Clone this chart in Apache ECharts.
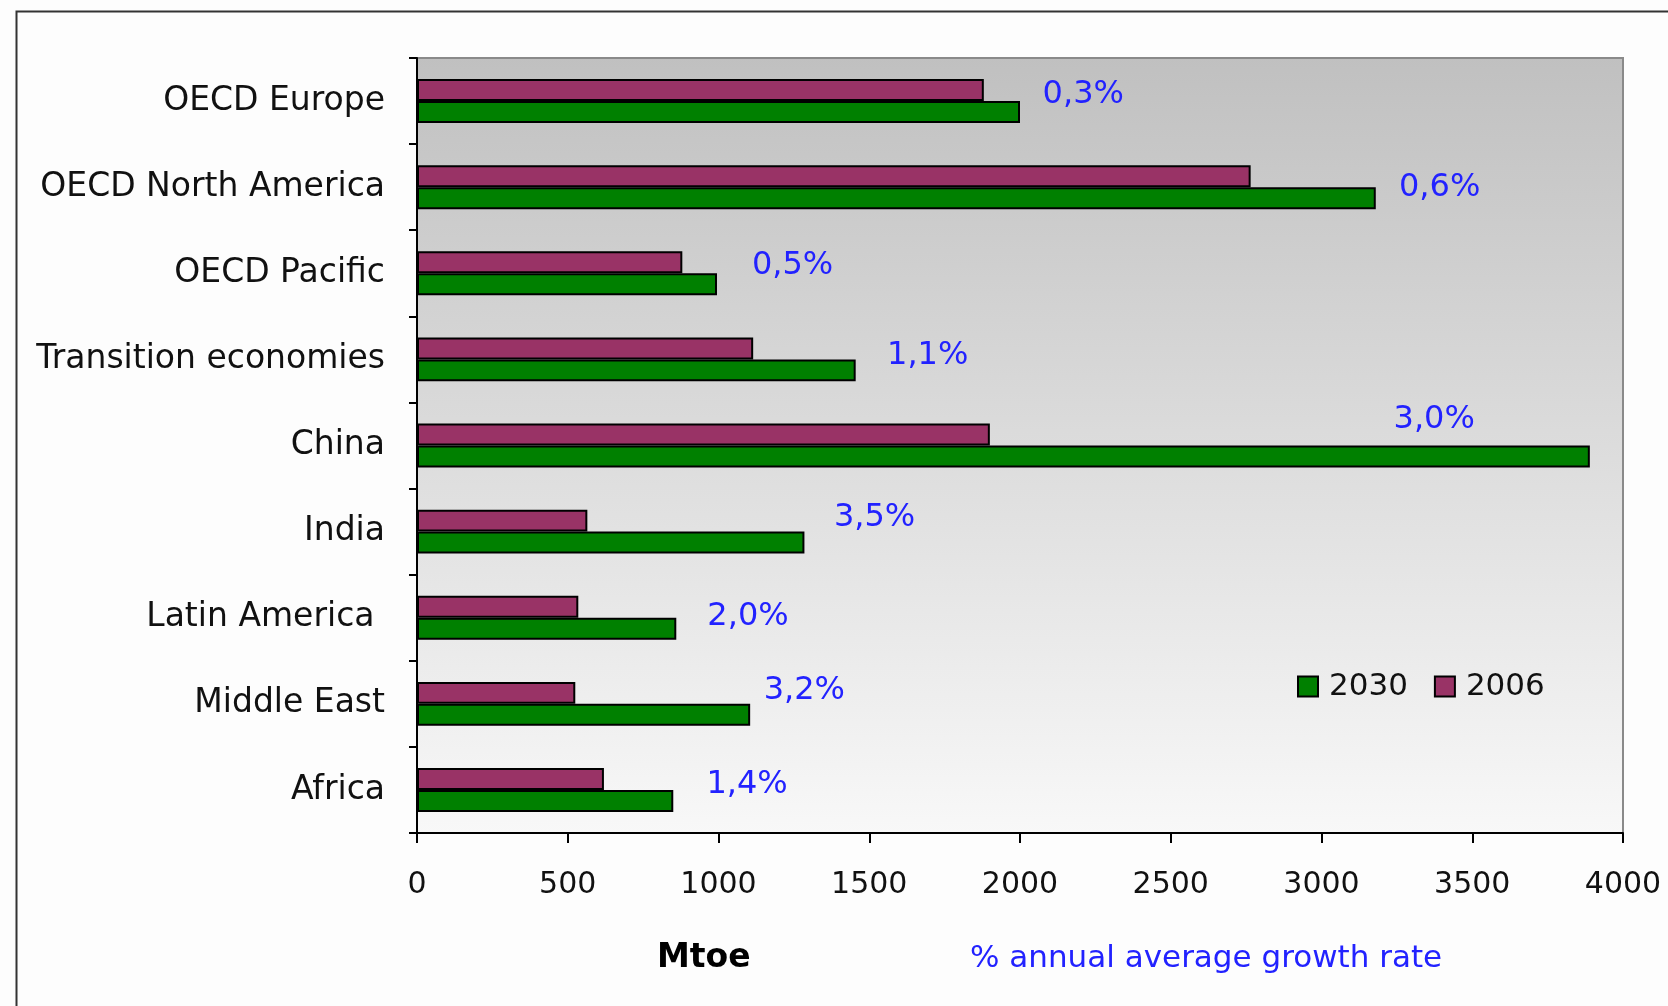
<!DOCTYPE html>
<html>
<head>
<meta charset="utf-8">
<script src="https://cdn.jsdelivr.net/npm/echarts@6/dist/echarts.min.js"></script>
<style>
html,body{margin:0;padding:0;background:#fdfdfd;}
#chart{width:1668px;height:1006px;}
</style>
</head>
<body>
<div id="chart"></div>
<script>
// ---- data ----
const regions = ['OECD Europe', 'OECD North America', 'OECD Pacific', 'Transition economies', 'China', 'India', 'Latin America ', 'Middle East', 'Africa'];
const values2006 = [1880, 2765, 880, 1115, 1900, 565, 535, 525, 620];
const values2030 = [2000, 3180, 995, 1455, 3890, 1285, 860, 1105, 850];
const growthRates = ['0,3%', '0,6%', '0,5%', '1,1%', '3,0%', '3,5%', '2,0%', '3,2%', '1,4%'];
const xTicks = { min: 0, max: 4000, interval: 500 };
// annotation placement (Mtoe units along x) and vertical pixel nudge of growth labels
const growthLabelX = [2075, 3257, 1111, 1559, 3239, 1383, 963, 1150, 960];
const growthLabelDy = [-6, 1, -8, -4, -26, -14, -1, -13, -5];

const FONT = 'DejaVu Sans';
const chart = echarts.init(document.getElementById('chart'), null, { renderer: 'canvas' });

const growthData = regions.map((r, i) => ({
  value: [growthLabelX[i], r],
  label: { offset: [0, growthLabelDy[i]], formatter: growthRates[i] }
}));

chart.setOption({
  animation: false,
  backgroundColor: '#fdfdfd',
  textStyle: { fontFamily: FONT },
  grid: {
    left: 417, top: 58, right: 45, bottom: 173,
    show: true,
    backgroundColor: new echarts.graphic.LinearGradient(0, 0, 0, 1, [
      { offset: 0, color: '#c0c0c0' },
      { offset: 1, color: '#f8f8f8' }
    ]),
    borderColor: '#8a8a8a',
    borderWidth: 2
  },
  legend: {
    data: ['2030', '2006'],
    left: 1292, top: 666,
    itemWidth: 20, itemHeight: 20,
    itemGap: 26,
    icon: 'rect',
    textStyle: { fontFamily: FONT, fontSize: 31, color: '#111', padding: [0, 0, 0, 6] }
  },
  xAxis: {
    type: 'value',
    min: xTicks.min, max: xTicks.max, interval: xTicks.interval,
    axisLine: { show: true, lineStyle: { color: '#000', width: 2 } },
    axisTick: { show: true, length: 10, lineStyle: { color: '#000', width: 2 } },
    axisLabel: { fontFamily: FONT, fontSize: 30, color: '#111', margin: 37, formatter: v => String(v) },
    splitLine: { show: false }
  },
  yAxis: {
    type: 'category',
    data: regions,
    inverse: true,
    axisLine: { show: true, lineStyle: { color: '#000', width: 2 } },
    axisTick: { show: true, length: 8, lineStyle: { color: '#000', width: 2 } },
    axisLabel: { fontFamily: FONT, fontSize: 33, color: '#111', margin: 32, padding: [6, 0, 0, 0] }
  },
  series: [
    {
      name: '2006', type: 'bar', data: values2006,
      barGap: '0%', barCategoryGap: '49%',
      itemStyle: { color: '#993366', borderColor: '#000', borderWidth: 2 },
      silent: true
    },
    {
      name: '2030', type: 'bar', data: values2030,
      barGap: '0%', barCategoryGap: '49%',
      itemStyle: { color: '#008000', borderColor: '#000', borderWidth: 2 },
      silent: true
    },
    {
      name: 'growth', type: 'scatter', data: growthData,
      symbolSize: 0, silent: true,
      itemStyle: { opacity: 1 },
      label: {
        show: true, position: 'right', distance: 0,
        fontFamily: FONT, fontSize: 32, color: '#2222ff'
      }
    }
  ],
  graphic: [
    { type: 'rect', left: 14, top: 9, shape: { width: 1700, height: 1100 },
      style: { fill: 'none', stroke: '#333', lineWidth: 2 }, silent: true, z: 100 },
    { type: 'text', left: 657, top: 942,
      style: { text: 'Mtoe', font: 'bold 33px "DejaVu Sans"', fill: '#000' } },
    { type: 'text', left: 970, top: 943,
      style: { text: '% annual average growth rate', font: '31px "DejaVu Sans"', fill: '#2222ff' } }
  ]
});
</script>
</body>
</html>
